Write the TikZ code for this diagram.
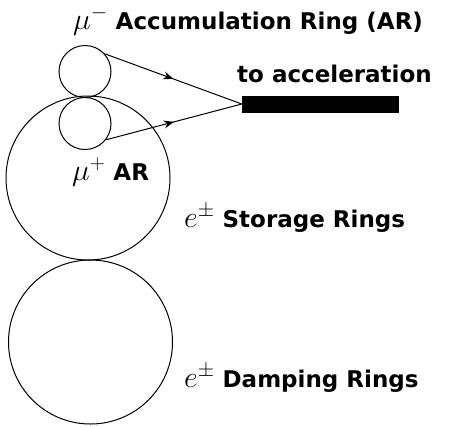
\RequirePackage{fix-cm}
\documentclass[tikz,border=0pt]{standalone}
\usepackage{fontspec}
\setmainfont{DejaVu Sans}
\usetikzlibrary{arrows.meta,decorations.markings}
\newcommand{\mylblmath}[1]{{\fontsize{30}{32}\selectfont$#1$}}
\begin{document}
\begin{tikzpicture}[x=1pt,y=-1pt,
  ring/.style={draw,circle,line width=1pt,inner sep=0pt},
  lbl/.style={anchor=base west,inner sep=0pt,font=\fontsize{23}{26}\selectfont\bfseries},
  feed/.style={line width=1pt,postaction={decorate},
    decoration={markings,mark=at position 0.5 with {\arrow{Stealth[length=10pt,width=8pt]}}}}]
\useasboundingbox (0,0) rectangle (449,426);
\node[ring,minimum size=164pt] (sr) at (88,178) {};
\node[ring,minimum size=164pt] (dr) at (90.5,342) {};
\node[ring,minimum size=52pt] (arm) at (85,71.5) {};
\node[ring,minimum size=52pt] (arp) at (85,123.5) {};
\node[draw,fill=black,inner sep=0pt,minimum width=156pt,minimum height=16pt] (bar) at (320,104) {};
\draw[feed] (arm.42) -- (bar.west);
\draw[feed] (arp.-38) -- (bar.west);
\node[lbl] (tm) at (73,29) {\mylblmath{\mu^-} Accumulation Ring (AR)};
\node[lbl] (ta) at (237,82) {to acceleration};
\node[lbl] (tp) at (72,180) {\mylblmath{\mu^+} AR};
\node[lbl] (ts) at (184,227) {\mylblmath{e^\pm} Storage Rings};
\node[lbl] (td) at (184,387) {\mylblmath{e^\pm} Damping Rings};
\end{tikzpicture}
\end{document}
